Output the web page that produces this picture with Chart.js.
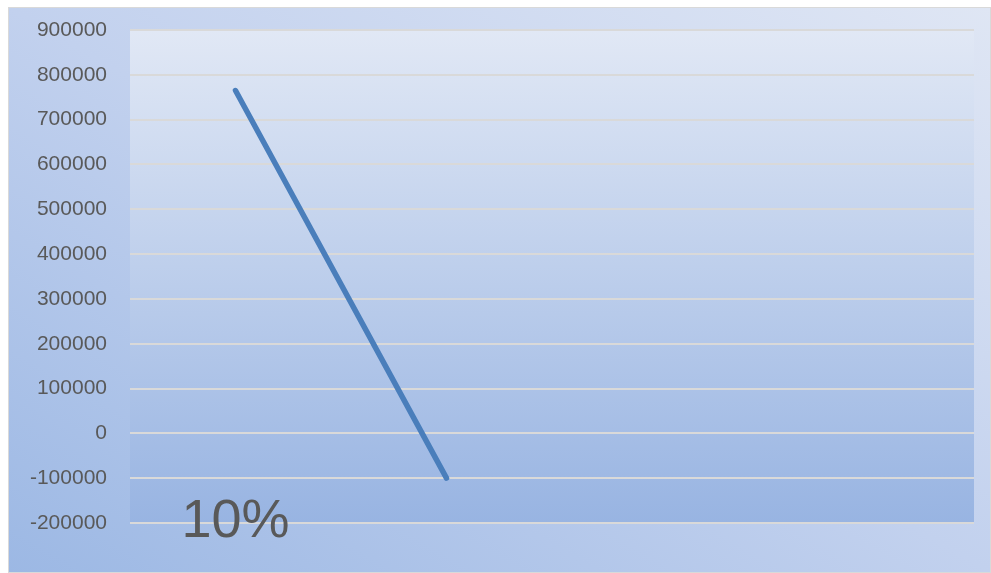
<!DOCTYPE html>
<html lang="en">
<head>
    <meta charset="UTF-8">
    <title>Line chart</title>
    <script src="https://cdn.jsdelivr.net/npm/chart.js"></script>
    <style>
        html, body { margin: 0; padding: 0; background: #fff; }
        #wrap { width: 991px; height: 573px; position: relative; }
    </style>
</head>
<body>
    <div id="wrap"><canvas id="chart"></canvas></div>

    <script>
        // data
        const categories = ['10%', '', '', ''];
        const seriesValues = [765000, -100000, null, null];
        const yMin = -200000;
        const yMax = 900000;
        const yStep = 100000;

        // backgrounds + the big category label
        const backdrop = {
            id: 'backdrop',
            beforeDraw(chart) {
                const ctx = chart.ctx;
                const a = chart.chartArea;
                ctx.save();
                // outer frame, isolines run along the top-left / bottom-right diagonal
                let g = ctx.createLinearGradient(255, 714, 743, -135);
                g.addColorStop(0, '#9cb8e4');
                g.addColorStop(0.5, '#c2d1ee');
                g.addColorStop(1, '#dfe6f4');
                ctx.fillStyle = g;
                ctx.fillRect(8, 7, 982, 565);
                ctx.strokeStyle = '#d9d9d9';
                ctx.lineWidth = 1;
                ctx.strokeRect(8.5, 7.5, 982, 565);
                // plot area
                g = ctx.createLinearGradient(0, a.top, 0, a.bottom);
                g.addColorStop(0, '#e1e8f5');
                g.addColorStop(1, '#98b4e2');
                ctx.fillStyle = g;
                ctx.fillRect(a.left, a.top, a.right - a.left, a.bottom - a.top);
                ctx.restore();
            },
            afterDatasetsDraw(chart) {
                const ctx = chart.ctx;
                const x = chart.scales.x;
                ctx.save();
                ctx.fillStyle = '#595959';
                ctx.font = '54px "Liberation Sans", Arial, sans-serif';
                ctx.textAlign = 'center';
                ctx.textBaseline = 'alphabetic';
                categories.forEach((c, i) => {
                    if (c) ctx.fillText(c, x.getPixelForValue(i), 537);
                });
                ctx.restore();
            }
        };

        new Chart(document.getElementById('chart'), {
            type: 'line',
            data: {
                labels: categories,
                datasets: [{
                    data: seriesValues,
                    borderColor: '#4a7ebb',
                    borderWidth: 5.5,
                    borderCapStyle: 'round',
                    pointRadius: 0,
                    tension: 0
                }]
            },
            options: {
                responsive: true,
                maintainAspectRatio: false,
                animation: false,
                layout: { padding: { left: 0, top: 30, right: 17, bottom: 50 } },
                plugins: {
                    legend: { display: false },
                    tooltip: { enabled: false }
                },
                scales: {
                    x: {
                        display: false,
                        offset: true
                    },
                    y: {
                        min: yMin,
                        max: yMax,
                        afterFit(scale) {
                            scale.width = 130;
                            // tick padding would otherwise push the plot top down
                            scale.paddingTop = 12;
                            scale.paddingBottom = 12;
                        },
                        border: { display: false },
                        grid: { color: '#d9d9d9', lineWidth: 2, drawTicks: false },
                        ticks: {
                            stepSize: yStep,
                            padding: 23,
                            color: '#595959',
                            font: { family: '"Liberation Sans", Arial, sans-serif', size: 21 },
                            callback: v => String(v)
                        }
                    }
                }
            },
            plugins: [backdrop]
        });
    </script>
</body>
</html>
